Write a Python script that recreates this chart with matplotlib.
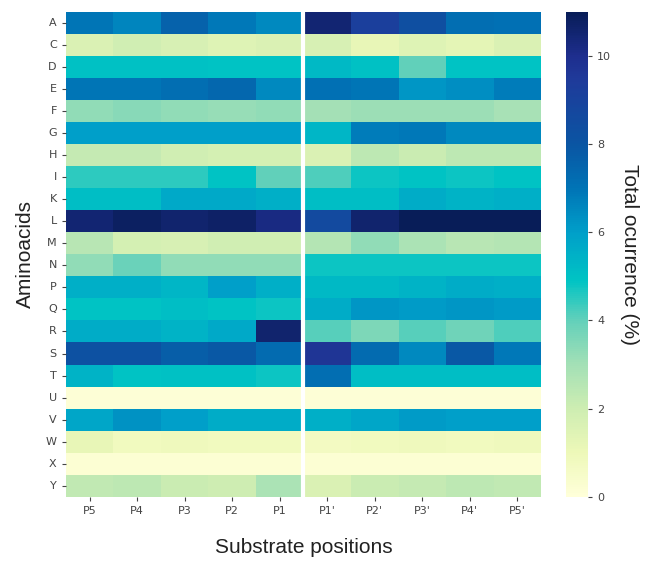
import numpy as np
import matplotlib
matplotlib.use("Agg")
import matplotlib.pyplot as plt
from matplotlib.colors import LinearSegmentedColormap
import seaborn as sns

aminoacids = ["A", "C", "D", "E", "F", "G", "H", "I", "K", "L", "M",
              "N", "P", "Q", "R", "S", "T", "U", "V", "W", "X", "Y"]
positions = ["P5", "P4", "P3", "P2", "P1", "P1'", "P2'", "P3'", "P4'", "P5'"]

# occurrence (%) per position, non-primed side (P5..P1)
left = [
    [7.0, 6.6, 7.6, 6.9, 6.5],   # A
    [1.6, 1.9, 1.7, 1.5, 1.6],   # C
    [5.0, 5.0, 5.0, 4.9, 4.9],   # D
    [7.0, 7.0, 7.2, 7.4, 6.5],   # E
    [3.3, 3.4, 3.3, 3.2, 3.3],   # F
    [6.0, 6.0, 6.0, 6.0, 6.0],   # G
    [2.2, 2.2, 1.9, 1.8, 1.8],   # H
    [4.5, 4.5, 4.5, 4.9, 4.0],   # I
    [5.1, 5.1, 5.7, 5.7, 5.5],   # K
    [10.5, 10.8, 10.6, 10.7, 10.2],  # L
    [2.5, 1.8, 1.7, 1.9, 1.9],   # M
    [3.3, 3.9, 3.3, 3.3, 3.3],   # N
    [5.5, 5.5, 5.3, 6.0, 5.5],   # P
    [4.9, 4.9, 5.1, 4.9, 4.8],   # Q
    [5.6, 5.6, 5.4, 5.7, 10.6],  # R
    [8.2, 8.2, 7.7, 7.9, 7.3],   # S
    [5.4, 4.9, 5.0, 5.0, 4.8],   # T
    [0.1, 0.1, 0.1, 0.1, 0.1],   # U
    [5.8, 6.3, 6.0, 5.6, 5.6],   # V
    [1.2, 0.8, 0.9, 0.8, 0.8],   # W
    [0.2, 0.2, 0.2, 0.2, 0.2],   # X
    [2.3, 2.4, 2.1, 2.0, 2.8],   # Y
]

# primed side (P1'..P5')
right = [
    [10.5, 9.2, 8.3, 7.2, 7.1],  # A
    [1.7, 1.2, 1.5, 1.3, 1.6],   # C
    [5.2, 5.0, 4.0, 4.9, 4.9],   # D
    [7.1, 7.0, 6.2, 6.4, 6.8],   # E
    [3.0, 3.1, 3.1, 3.1, 2.9],   # F
    [5.3, 6.8, 6.9, 6.5, 6.5],   # G
    [1.6, 2.4, 2.1, 2.4, 2.4],   # H
    [4.2, 4.8, 4.9, 4.8, 4.9],   # I
    [5.1, 5.1, 5.6, 5.4, 5.5],   # K
    [8.6, 10.6, 11.0, 11.0, 11.0],  # L
    [2.6, 3.3, 2.8, 2.5, 2.6],   # M
    [4.8, 4.8, 4.8, 4.8, 4.8],   # N
    [5.2, 5.2, 5.4, 5.6, 5.5],   # P
    [5.6, 6.2, 6.1, 6.2, 6.1],   # Q
    [4.1, 3.6, 4.1, 3.8, 4.2],   # R
    [9.7, 7.3, 6.5, 7.9, 6.9],   # S
    [7.2, 5.1, 5.1, 5.1, 5.1],   # T
    [0.1, 0.1, 0.1, 0.1, 0.1],   # U
    [5.5, 5.8, 6.1, 6.0, 6.0],   # V
    [0.7, 0.8, 0.9, 0.8, 0.9],   # W
    [0.2, 0.2, 0.2, 0.2, 0.2],   # X
    [1.6, 2.1, 2.2, 2.4, 2.3],   # Y
]

data = np.hstack([np.array(left), np.array(right)])

# YlGnBu-like map, but with the stronger cyan seen in the original colorbar
vmax = 11
stops = [(0, "#ffffd9"), (1, "#edf8b8"), (2, "#cdedb2"), (3, "#a3e0b6"),
         (4, "#62d0ba"), (4.9, "#00c4c4"), (6, "#009fc9"), (7, "#0074b6"),
         (8, "#0a55a3"), (9.5, "#1f3a9a"), (10, "#1e2e8e"), (11, "#081d58")]
cmap = LinearSegmentedColormap.from_list(
    "ylgnbu_sat", [(v / vmax, c) for v, c in stops])

fig = plt.figure(figsize=(6.45, 5.62), dpi=100)
ax = fig.add_axes([0.102, 0.116, 0.737, 0.863])
cax = fig.add_axes([0.8775, 0.116, 0.034, 0.863])

sns.heatmap(data, ax=ax, cbar_ax=cax, cmap=cmap, vmin=0, vmax=vmax,
            xticklabels=positions, yticklabels=aminoacids)
ax.axvline(5, color="white", linewidth=3)

ax.tick_params(axis="both", labelsize=8, colors="#444444", length=3)
ax.set_yticklabels(aminoacids, rotation=0)
ax.set_xticklabels(positions, rotation=0)
ax.set_xlabel("Substrate positions", fontsize=15, family="Liberation Sans",
              color="#222222", labelpad=16)
ax.set_ylabel("Aminoacids", fontsize=15, family="Liberation Sans",
              color="#222222", labelpad=8)

cax.tick_params(labelsize=8, colors="#444444", length=3)
cax.set_ylabel("Total ocurrence (%)", fontsize=15, family="Liberation Sans",
               color="#222222", rotation=270, labelpad=20)

fig.savefig("out.png", dpi=100)
